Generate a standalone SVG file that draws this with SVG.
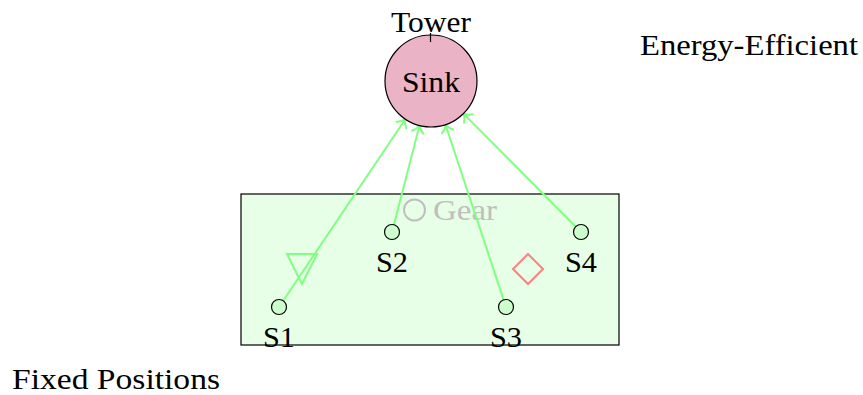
<svg xmlns="http://www.w3.org/2000/svg" width="863" height="395" viewBox="0 0 863 395" font-family="'Liberation Serif', 'DejaVu Serif', 'Times New Roman', serif">
  <style>
    text { font-family: "Liberation Serif", "DejaVu Serif", "Times New Roman", serif; font-size: 29px; fill: #000; }
    .mid { text-anchor: middle; }
    .link { stroke: #80ff80; stroke-width: 2; fill: none; marker-end: url(#to); }
    .sensor { fill: #ccffcc; stroke: #000; stroke-width: 1.2; }
    .gray { fill: #bfbfbf; }
  </style>
  <defs>
    <marker id="to" markerUnits="userSpaceOnUse" orient="auto" markerWidth="20" markerHeight="20" viewBox="-10 -10 20 20" refX="0" refY="0" overflow="visible">
      <path d="M -7,-6 C -5,-2.5 -1.5,-0.6 0,0 C -1.5,0.6 -5,2.5 -7,6" fill="none" stroke="#80ff80" stroke-width="2" stroke-linecap="round"/>
    </marker>
  </defs>

  <!-- deployment area -->
  <g id="area">
    <rect x="241" y="194" width="378" height="151" fill="#e6ffe6" stroke="#000" stroke-width="1.2"/>
  </g>

  <!-- gear marker -->
  <g id="gear">
    <circle cx="414.5" cy="210" r="10.5" fill="none" stroke="#bfbfbf" stroke-width="2"/>
    <text class="gray" x="433" y="220" textLength="64" lengthAdjust="spacingAndGlyphs">Gear</text>
  </g>

  <!-- connectors -->
  <g id="connectors">
    <line class="link" x1="282.9" y1="301.2" x2="405.3" y2="119.2"/>
    <line class="link" x1="393.8" y1="225.2" x2="419.5" y2="125.5"/>
    <line class="link" x1="503.8" y1="300.4" x2="445.5" y2="124.7"/>
    <line class="link" x1="576.1" y1="227.0" x2="463.4" y2="113.6"/>
  </g>

  <!-- sink -->
  <g id="sink">
    <circle cx="431" cy="81" r="46" fill="#ebb3c6" stroke="#000" stroke-width="1.2"/>
    <line x1="430.5" y1="33" x2="430.5" y2="42" stroke="#000" stroke-width="1.2"/>
    <text class="mid" x="431" y="32" textLength="80" lengthAdjust="spacingAndGlyphs">Tower</text>
    <text class="mid" x="431" y="92" textLength="58" lengthAdjust="spacingAndGlyphs">Sink</text>
  </g>

  <!-- sensors -->
  <g id="s1">
    <circle class="sensor" cx="279" cy="307" r="7.5"/>
    <text class="mid" x="279" y="347" textLength="32" lengthAdjust="spacingAndGlyphs">S1</text>
  </g>
  <g id="s2">
    <circle class="sensor" cx="392" cy="232" r="7.5"/>
    <text class="mid" x="392" y="272" textLength="32" lengthAdjust="spacingAndGlyphs">S2</text>
  </g>
  <g id="s3">
    <circle class="sensor" cx="506" cy="307" r="7.5"/>
    <text class="mid" x="506" y="347" textLength="32" lengthAdjust="spacingAndGlyphs">S3</text>
  </g>
  <g id="s4">
    <circle class="sensor" cx="581" cy="232" r="7.5"/>
    <text class="mid" x="581" y="272" textLength="32" lengthAdjust="spacingAndGlyphs">S4</text>
  </g>

  <!-- symbols -->
  <g id="triangle">
    <polygon points="287,254 317,254 302,284" fill="none" stroke="#80ff80" stroke-width="2"/>
  </g>
  <g id="diamond">
    <polygon points="528,254 543,269 528,284 513,269" fill="none" stroke="#ff8080" stroke-width="2"/>
  </g>

  <!-- captions -->
  <g id="captions">
    <text x="640" y="55" textLength="218" lengthAdjust="spacingAndGlyphs">Energy-Efficient</text>
    <text x="12" y="389" textLength="208" lengthAdjust="spacingAndGlyphs">Fixed Positions</text>
  </g>
</svg>
